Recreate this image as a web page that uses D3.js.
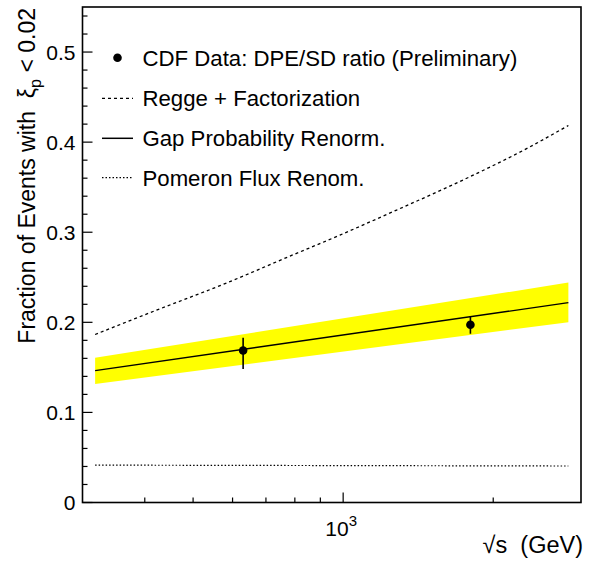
<!DOCTYPE html>
<html>
<head>
<meta charset="utf-8">
<script src="https://cdn.jsdelivr.net/npm/d3@7"></script>
<style>
  html, body { margin: 0; padding: 0; background: #fff; }
  text { font-family: "Liberation Sans", Arial, Helvetica, sans-serif; fill: #000; }
</style>
</head>
<body>
<svg id="chart" width="595" height="562"></svg>
<script>
// ---- data ----
const reggeSqrtS = [318, 420, 575, 780, 985, 1280, 1740, 2370, 2830];
const reggeFrac  = [0.1865, 0.2130, 0.2422, 0.2732, 0.2968, 0.3246, 0.3580, 0.3948, 0.4185];

const gapSqrtS   = [318, 2830];
const gapFrac    = [0.1464, 0.2218];
const gapBandLow = [0.1316, 0.2002];
const gapBandHigh= [0.1606, 0.2441];

const fluxSqrtS  = [318, 2830];
const fluxFrac   = [0.0415, 0.0405];

const dataSqrtS  = [630, 1800];
const dataFrac   = [0.1687, 0.1973];
const dataLow    = [0.1483, 0.1873];
const dataHigh   = [0.1829, 0.2069];

const yMajorTicks = [0, 0.1, 0.2, 0.3, 0.4, 0.5];
const yTickLabels = ["0", "0.1", "0.2", "0.3", "0.4", "0.5"];
const yMinorTicks = [0.02,0.04,0.06,0.08,0.12,0.14,0.16,0.18,0.22,0.24,0.26,0.28,0.32,0.34,0.36,0.38,0.42,0.44,0.46,0.48,0.52,0.54];
const xMajorTicks = [1000];
const xMinorTicks = [400, 500, 600, 700, 800, 900, 2000];

const legendLabels = [
  "CDF Data: DPE/SD ratio (Preliminary)",
  "Regge + Factorization",
  "Gap Probability Renorm.",
  "Pomeron Flux Renom."
];

// ---- layout ----
const svg = d3.select("#chart");
const L = 82.5, R = 581, T = 7, B = 502.5;
const x = d3.scaleLog().domain([300, 3000]).range([L, R]);
const y = d3.scaleLinear().domain([0, 0.55]).range([B, T]);

// band
const band = gapSqrtS.map((s, i) => ({s, lo: gapBandLow[i], hi: gapBandHigh[i]}));
svg.append("path")
  .datum(band)
  .attr("d", d3.area().x(d => x(d.s)).y0(d => y(d.lo)).y1(d => y(d.hi)))
  .attr("fill", "#ffff00");

// gap line
svg.append("path")
  .datum(gapSqrtS.map((s, i) => [s, gapFrac[i]]))
  .attr("d", d3.line().x(d => x(d[0])).y(d => y(d[1])))
  .attr("fill", "none").attr("stroke", "#000").attr("stroke-width", 1.4);

// regge
svg.append("path")
  .datum(reggeSqrtS.map((s, i) => [s, reggeFrac[i]]))
  .attr("d", d3.line().x(d => x(d[0])).y(d => y(d[1])).curve(d3.curveMonotoneX))
  .attr("fill", "none").attr("stroke", "#000").attr("stroke-width", 1.3)
  .attr("stroke-dasharray", "3,3");

// flux
svg.append("path")
  .datum(fluxSqrtS.map((s, i) => [s, fluxFrac[i]]))
  .attr("d", d3.line().x(d => x(d[0])).y(d => y(d[1])))
  .attr("fill", "none").attr("stroke", "#000").attr("stroke-width", 1.2)
  .attr("stroke-dasharray", "1.5,2");

// data points
const pts = dataSqrtS.map((s, i) => ({s, v: dataFrac[i], lo: dataLow[i], hi: dataHigh[i]}));
svg.selectAll(".err").data(pts).enter().append("line")
  .attr("x1", d => x(d.s)).attr("x2", d => x(d.s))
  .attr("y1", d => y(d.lo)).attr("y2", d => y(d.hi))
  .attr("stroke", "#000").attr("stroke-width", 1.6);
svg.selectAll(".pt").data(pts).enter().append("circle")
  .attr("cx", d => x(d.s)).attr("cy", d => y(d.v)).attr("r", 4.3)
  .attr("fill", "#000");

// frame
svg.append("rect").attr("x", L).attr("y", T).attr("width", R - L).attr("height", B - T)
  .attr("fill", "none").attr("stroke", "#000").attr("stroke-width", 1.6);

// y axis ticks (inward)
const yAxis = svg.append("g").attr("transform", `translate(${L},0)`);
yAxis.selectAll(".ymaj").data(yMajorTicks).enter().append("line")
  .attr("x1", 0).attr("x2", 10).attr("y1", d => y(d)).attr("y2", d => y(d))
  .attr("stroke", "#000").attr("stroke-width", 1.2);
yAxis.selectAll(".ymin").data(yMinorTicks).enter().append("line")
  .attr("x1", 0).attr("x2", 5).attr("y1", d => y(d)).attr("y2", d => y(d))
  .attr("stroke", "#000").attr("stroke-width", 1.2);
yAxis.selectAll(".ylab").data(yMajorTicks).enter().append("text")
  .attr("x", -7).attr("y", d => y(d)).attr("dy", "0.36em")
  .attr("text-anchor", "end").attr("font-size", 21)
  .text((d, i) => yTickLabels[i]);

// x axis ticks (inward)
const xAxis = svg.append("g").attr("transform", `translate(0,${B})`);
xAxis.selectAll(".xmaj").data(xMajorTicks).enter().append("line")
  .attr("x1", d => x(d)).attr("x2", d => x(d)).attr("y1", 0).attr("y2", -10)
  .attr("stroke", "#000").attr("stroke-width", 1.2);
xAxis.selectAll(".xmin").data(xMinorTicks).enter().append("line")
  .attr("x1", d => x(d)).attr("x2", d => x(d)).attr("y1", 0).attr("y2", -5)
  .attr("stroke", "#000").attr("stroke-width", 1.2);
const xl = xAxis.selectAll(".xlab").data(xMajorTicks).enter().append("text")
  .attr("x", d => x(d) - 2).attr("y", 33).attr("text-anchor", "middle").attr("font-size", 21);
xl.append("tspan").text("10");
xl.append("tspan").attr("dy", -10).attr("font-size", 15).text(d => Math.round(Math.log10(d)));

// x title
const xt = svg.append("text").attr("x", 583).attr("y", 553).attr("text-anchor", "end").attr("font-size", 23.5);
xt.append("tspan").text("\u221As\u00a0\u00a0(GeV)");

// y title
const yt = svg.append("text")
  .attr("transform", "translate(35,8) rotate(-90)")
  .attr("text-anchor", "end").attr("font-size", 23);
yt.append("tspan").text("Fraction of Events with \u00a0\u03BE");
yt.append("tspan").attr("dy", 6).attr("font-size", 16).text("p");
yt.append("tspan").attr("dy", -6).text("\u00a0< 0.02");

// legend
const lg = svg.append("g");
const rowY = [57.7, 98.3, 138.3, 177.7];
lg.append("circle").attr("cx", 117.5).attr("cy", rowY[0]).attr("r", 4.3).attr("fill", "#000");
lg.append("line").attr("x1", 102).attr("x2", 133).attr("y1", rowY[1]).attr("y2", rowY[1])
  .attr("stroke", "#000").attr("stroke-width", 1.3).attr("stroke-dasharray", "3,3");
lg.append("line").attr("x1", 102).attr("x2", 133).attr("y1", rowY[2]).attr("y2", rowY[2])
  .attr("stroke", "#000").attr("stroke-width", 1.5);
lg.append("line").attr("x1", 102).attr("x2", 133).attr("y1", rowY[3]).attr("y2", rowY[3])
  .attr("stroke", "#000").attr("stroke-width", 1.2).attr("stroke-dasharray", "1.5,2");
lg.selectAll(".lt").data(legendLabels).enter().append("text")
  .attr("x", 142.5).attr("y", (d, i) => rowY[i]).attr("dy", "0.36em")
  .attr("font-size", 22.2).text(d => d);
</script>
</body>
</html>
